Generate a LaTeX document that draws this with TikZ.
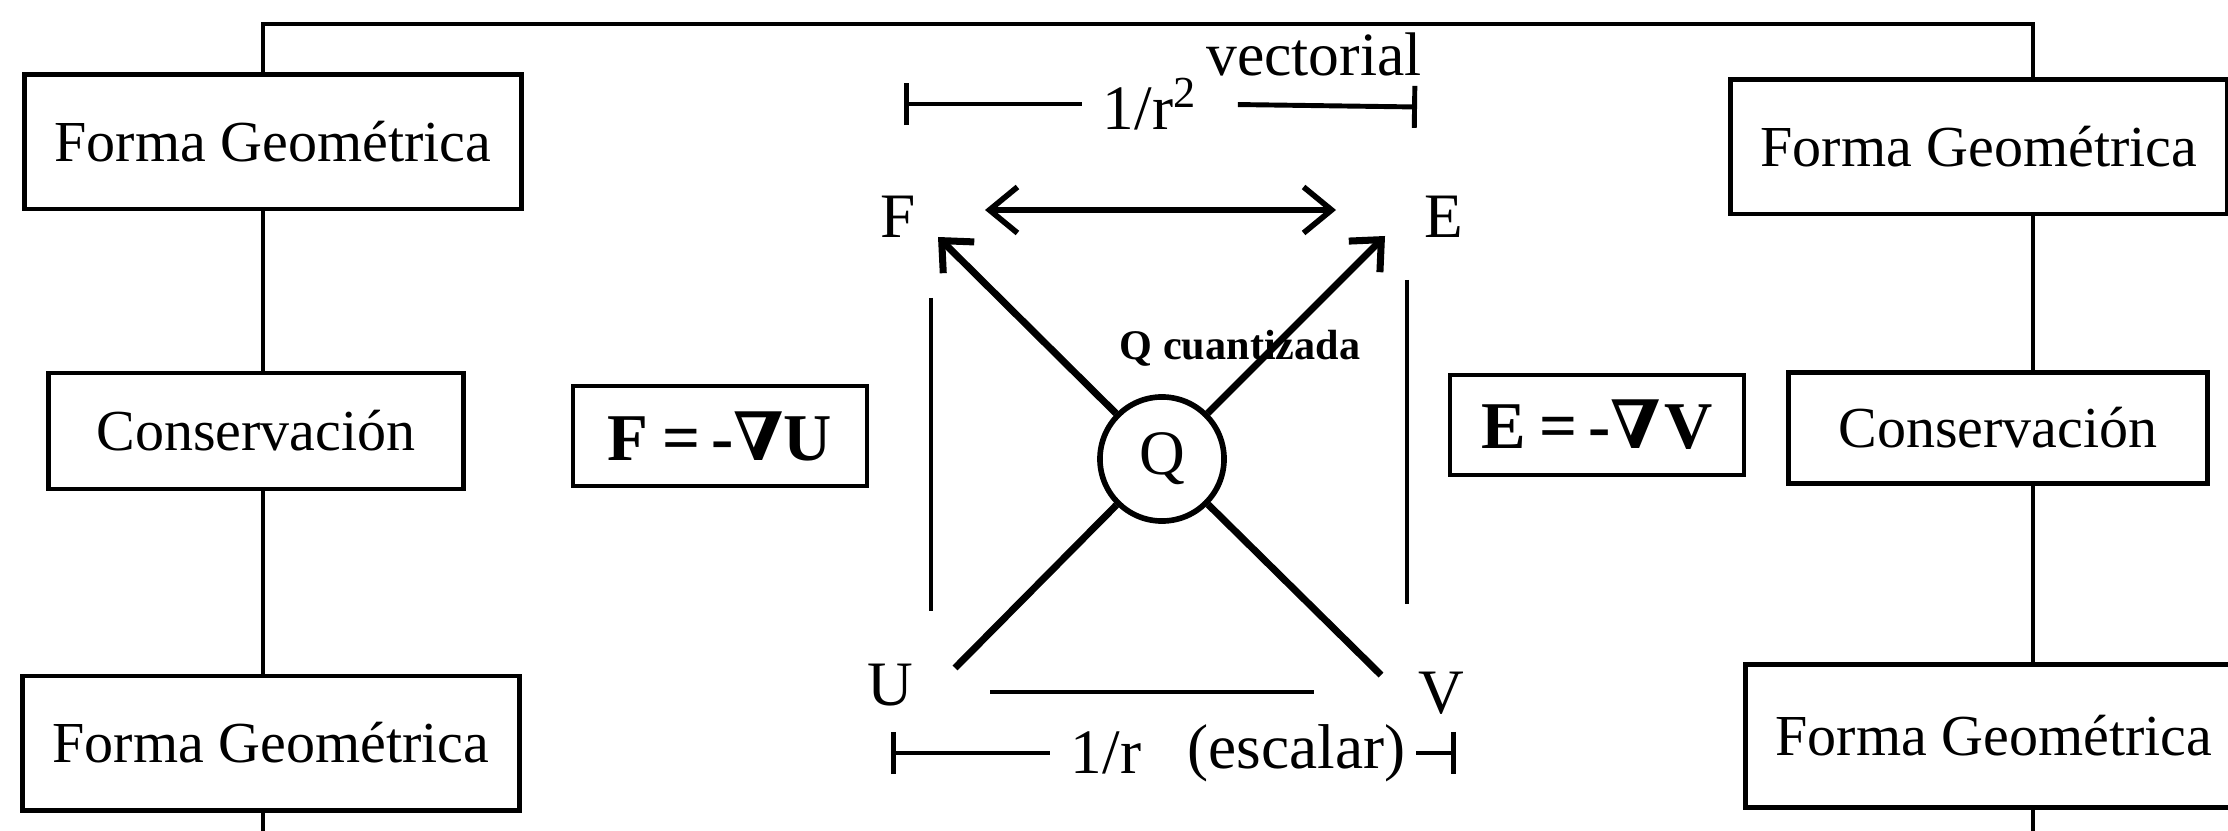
\documentclass[tikz,border=0pt]{standalone}
\usepackage{fontspec}
\setmainfont{Liberation Serif}
\newfontfamily\nabfont{DejaVu Serif}
\usetikzlibrary{arrows.meta, positioning}
\newcommand{\gradsym}{{\nabfont\bfseries ∇}}

\begin{document}
\begin{tikzpicture}[
      x=0.01cm, y=-0.01cm,
      every node/.style={font=\fontsize{16.5}{20}\selectfont, inner sep=2pt},
      box/.style={draw, line width=1.4pt, minimum width=4.96cm,
                  minimum height=1.34cm, align=center},
      cbox/.style={box, minimum width=4.14cm, minimum height=1.16cm},
      eqbox/.style={draw, line width=1.3pt, minimum width=2.94cm,
                    minimum height=1.0cm,
                    font=\bfseries\fontsize{19}{23}\selectfont},
      lbl/.style={font=\fontsize{18}{22}\selectfont, inner sep=0pt},
      conn/.style={line width=1.4pt},
      side/.style={line width=1.4pt},
      vec/.style={line width=2pt,
                  -{Straight Barb[length=2.4mm, width=4.4mm, line width=2pt]}},
      dvec/.style={line width=1.6pt,
                   {Straight Barb[length=2.8mm, width=4.6mm]}-{Straight Barb[length=2.8mm, width=4.6mm]}},
      tick/.style={line width=1.4pt, {Bar[width=4.2mm]}-},
    ]
    \useasboundingbox (0,0) rectangle (2228,831);
    \clip (0,0) rectangle (2228,831);

    % Columna izquierda
    \node[box]  (topL)  at (273,142) {Forma Geométrica};
    \node[cbox] (consL) at (256,431) {Conservación};
    \node[box]  (botL)  at (271,743) {Forma Geométrica};

    % Columna derecha
    \node[box]  (topR)  at (1979,147) {Forma Geométrica};
    \node[cbox, minimum width=4.18cm, minimum height=1.11cm]
                (consR) at (1998,428) {Conservación};
    \node[box, minimum height=1.42cm] (botR) at (1994,736) {Forma Geométrica};

    \coordinate (lcol) at (263,0);
    \coordinate (rcol) at (2033,0);
    \coordinate (topy) at (0,24);
    \coordinate (boty) at (0,831);

    % Conexiones de las columnas
    \draw[conn] (lcol |- topL.north) -- (lcol |- topy) -- (rcol |- topy)
                -- (rcol |- topR.north);
    \draw[conn] (lcol |- topL.south)  -- (lcol |- consL.north);
    \draw[conn] (lcol |- consL.south) -- (lcol |- botL.north);
    \draw[conn] (lcol |- botL.south)  -- (lcol |- boty);
    \draw[conn] (rcol |- topR.south)  -- (rcol |- consR.north);
    \draw[conn] (rcol |- consR.south) -- (rcol |- botR.north);
    \draw[conn] (rcol |- botR.south)  -- (rcol |- boty);

    % Gradientes
    \node[eqbox] (gradU) at (720,436)  {F\hspace{4pt}=\hspace{3pt}-\gradsym U};
    \node[eqbox] (gradV) at (1597,425) {E\hspace{4pt}=\hspace{3pt}-\gradsym\hspace{1pt}V};

    % Cuadro central
    \node[lbl] (F) at (898,217)  {F};
    \node[lbl] (E) at (1444,217) {E};
    \node[lbl] (U) at (890,685)  {U};
    \node[lbl] (V) at (1441,693) {V};
    \node[lbl, draw, circle, line width=1.6pt, minimum size=1.24cm]
          (Q) at (1162,459) {Q};
    \node[font=\bfseries\fontsize{12}{14}\selectfont] (qc) at (1240,348)
      {Q cuantizada};

    \coordinate (tF) at (938,237);
    \coordinate (tE) at (1385,236);
    \coordinate (eU) at (955,668);
    \coordinate (eV) at (1381,675);
    \draw[vec] (Q) -- (tF);
    \draw[vec] (Q) -- (tE);
    \draw[side, line width=2pt] (Q) -- (eU);
    \draw[side, line width=2pt] (Q) -- (eV);

    \coordinate (aF) at (985,210);
    \coordinate (aE) at (1336,210);
    \draw[dvec] (aF) -- (aE);

    \coordinate (sLa) at (931,298);
    \coordinate (sLb) at (931,611);
    \coordinate (sRa) at (1407,280);
    \coordinate (sRb) at (1407,604);
    \coordinate (sBa) at (990,692);
    \coordinate (sBb) at (1314,692);
    \draw[side] (sLa) -- (sLb);
    \draw[side] (sRa) -- (sRb);
    \draw[side] (sBa) -- (sBb);

    % Dependencia 1/r^2 (vectorial)
    \node[lbl] (rsq) at (1150,104) {1/r\textsuperscript{2}};
    \node[lbl, font=\fontsize{17.5}{20}\selectfont] (vect) at (1314,54) {vectorial};
    \coordinate (rsqL) at (904,104);
    \coordinate (rsqR) at (1417,107);
    \draw[tick, shorten >=0.2cm] (rsqL) -- (rsq.west);
    \draw[tick, shorten >=0.4cm] (rsqR) -- (rsq.east);

    % Dependencia 1/r (escalar)
    \node[lbl] (rinv) at (1106,753) {1/r};
    \node[lbl, right=0.45cm of rinv] (esc) {(escalar)};
    \coordinate (rinvL) at (891,753);
    \coordinate (rinvR) at (1456,753);
    \draw[tick, shorten >=0.2cm]  (rinvL) -- (rinv.west);
    \draw[tick, shorten >=0.1cm] (rinvR) -- (esc.east);

  \end{tikzpicture}
\end{document}
